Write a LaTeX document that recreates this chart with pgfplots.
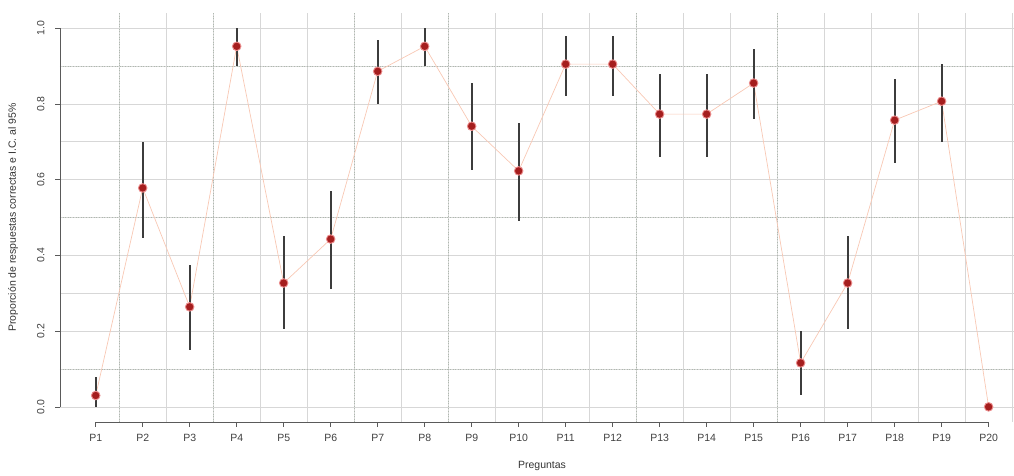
\documentclass[border=0pt]{standalone}
\usepackage{fontspec}
\setmainfont{Liberation Sans}
\usepackage{pgfplots}
\usepackage{pgfplotstable}
\pgfplotsset{compat=1.18}
\usetikzlibrary{calc}

\definecolor{ptred}{RGB}{165,30,30}
\definecolor{ptring}{RGB}{235,140,140}
\definecolor{linecol}{RGB}{248,200,180}
\definecolor{barcol}{RGB}{60,60,60}
\definecolor{gridcol}{RGB}{215,215,215}
\definecolor{gridcol2}{RGB}{175,185,175}
\definecolor{axcol}{RGB}{90,90,90}

% proporcion y limites del I.C. al 95%
\pgfplotstableread{
x  y      ep     em
1  0.030  0.050  0.030
2  0.578  0.122  0.132
3  0.264  0.111  0.114
4  0.952  0.048  0.052
5  0.327  0.123  0.122
6  0.443  0.127  0.133
7  0.886  0.084  0.086
8  0.952  0.048  0.052
9  0.741  0.114  0.116
10 0.623  0.127  0.133
11 0.905  0.075  0.085
12 0.905  0.075  0.085
13 0.773  0.107  0.113
14 0.773  0.107  0.113
15 0.855  0.090  0.095
16 0.116  0.084  0.086
17 0.327  0.123  0.122
18 0.757  0.108  0.112
19 0.807  0.098  0.107
20 0.000  0.000  0.000
}\datos

\begin{document}
\begin{tikzpicture}
\begin{axis}[
  name=ax,
  scale only axis, width=954pt, height=409pt,
  xmin=0.24, xmax=20.54, ymin=-0.04, ymax=1.04,
  axis x line*=bottom, axis y line*=left,
  axis line style={draw=none},
  xtick={1,...,20},
  xticklabels={P1,P2,P3,P4,P5,P6,P7,P8,P9,P10,P11,P12,P13,P14,P15,P16,P17,P18,P19,P20},
  minor xtick={1.5,2.5,...,20.5},
  ytick={0,0.2,0.4,0.6,0.8,1},
  minor ytick={0.1,0.3,0.5,0.7,0.9},
  yticklabel={\pgfmathprintnumber[fixed,fixed zerofill,precision=1]{\tick}},
  /pgf/number format/assume math mode=true,
  xmajorgrids=false, xminorgrids=true,
  ymajorgrids=true, yminorgrids=true,
  major grid style={gridcol, line width=0.6pt},
  minor grid style={gridcol, line width=0.6pt},
  extra x ticks={1.5,3.5,6.5,8.5,12.5,15.5},
  extra y ticks={0.1,0.5,0.9},
  extra x tick labels={}, extra y tick labels={},
  extra tick style={grid=major, major grid style={gridcol2, dotted, line width=0.9pt}, major tick length=0pt},
  tick align=outside, major tick length=5pt, minor tick length=0pt,
  tick style={axcol, line width=0.6pt},
  ticklabel style={font=\fontsize{10.5}{12}\selectfont, text=black!75},
  yticklabel style={rotate=90, anchor=south},
  yticklabel shift=7pt,
  xticklabel shift=4pt,
  clip=false,
]
\addplot[linecol, line width=0.7pt] table[x=x, y=y] {\datos};
\addplot[draw=none, forget plot,
  error bars/.cd, y dir=both, y explicit, error mark=none,
  error bar style={barcol, line width=1.8pt}]
  table[x=x, y=y, y error plus=ep, y error minus=em] {\datos};
\addplot[only marks, mark=*, mark size=4.3pt,
  mark options={fill=ptred, draw=ptring, line width=0.9pt}]
  table[x=x, y=y] {\datos};

\draw[axcol, line width=0.7pt] (axis cs:0.24,0) -- (axis cs:0.24,1);
\draw[axcol, line width=0.7pt] (axis cs:1,-0.04) -- (axis cs:20,-0.04);
\end{axis}
\node[font=\fontsize{10.5}{12}\selectfont, text=black!80] at ($(ax.south west)+(482pt,-44pt)$) {Preguntas};
\node[font=\fontsize{10.5}{12}\selectfont, text=black!80, rotate=90] at ($(ax.south west)+(-47pt,204.5pt)$) {Proporción de respuestas correctas e I.C. al 95\%};
\pgfresetboundingbox
\useasboundingbox ($(ax.south west)+(-60pt,-54pt)$) rectangle +(1014pt,476pt);
\end{tikzpicture}
\end{document}
